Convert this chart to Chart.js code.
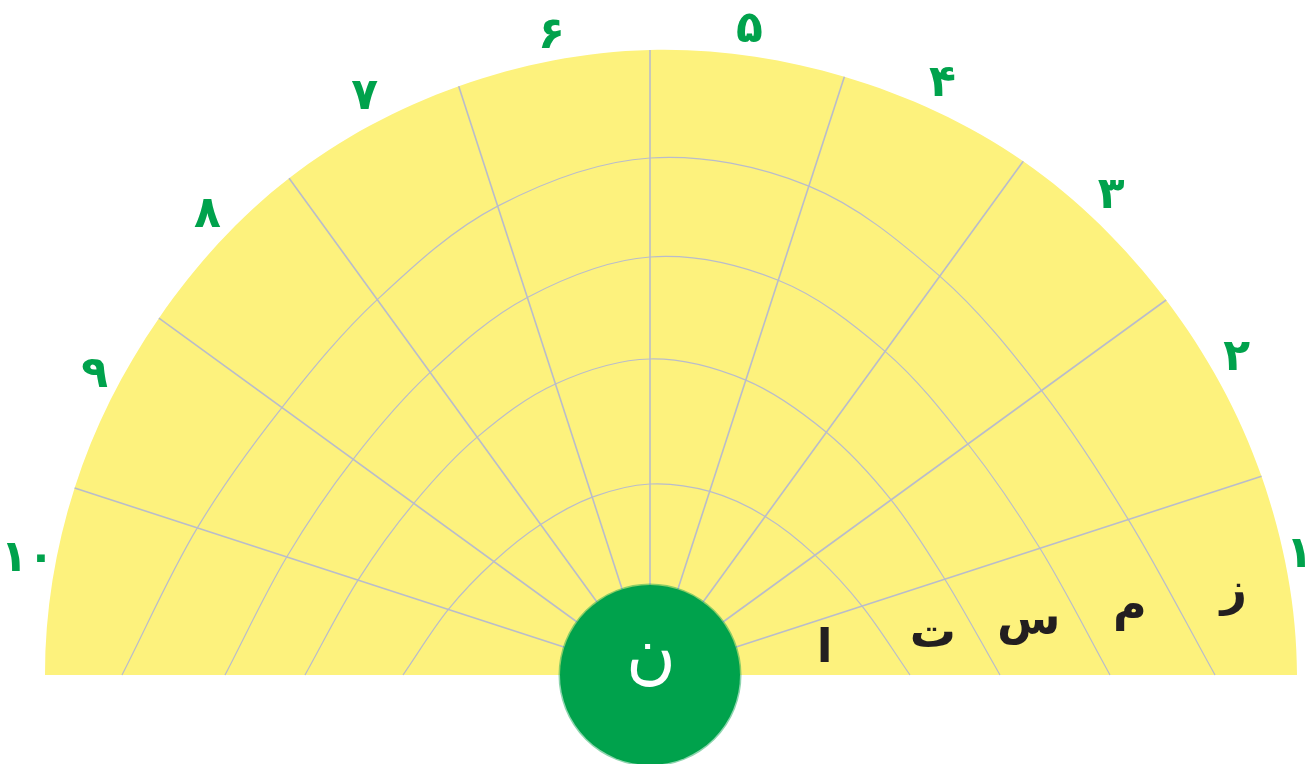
<!DOCTYPE html>
<html>
<head>
<meta charset="utf-8">
<script src="https://cdn.jsdelivr.net/npm/chart.js@4.4.1/dist/chart.umd.min.js"></script>
<style>
  html, body { margin: 0; padding: 0; background: #fff; }
  #wrap { position: relative; width: 1305px; height: 764px; overflow: hidden; }
  #chart { position: absolute; left: -50px; top: -25px; }
</style>
</head>
<body>
<div id="wrap"><canvas id="chart" width="1400" height="1400"></canvas></div>
<script>
// sector names, right (۱) to left (۱۰)
const sectorLabels = ['۱', '۲', '۳', '۴', '۵', '۶', '۷', '۸', '۹', '۱۰'];
// zone letters, inside to outside
const zoneLetters = ['ا', 'ت', 'س', 'م', 'ز'];
const centerLetter = 'ن';

// radius at each spoke, left baseline (180°) to right baseline (0°), every 18°
const rimRadius = [605, 605, 607, 614, 619, 625, 629, 635, 638, 643, 647];
const ring1 = [247, 212, 193, 186, 187, 191, 193, 196, 204, 223, 260];
const ring2 = [345, 307, 292, 294, 306, 316, 310, 300, 298, 310, 350];
const ring3 = [425, 382, 367, 374, 397, 418, 415, 400, 393, 410, 460];
const ring4 = [528, 476, 455, 464, 493, 517, 514, 493, 484, 503, 565];

const YELLOW = '#fdf27d';
const GRID = '#b9bccb';
const GREEN = '#00a24c';
const HUB = 91;
const RMAX = 700;
const N = 20; // full circle, only the upper half is shown

const labels = Array.from({ length: N }, (_, i) => i < 10 ? sectorLabels[9 - i] : '');
const pad = arr => arr.concat(Array(N - arr.length).fill(null));

// one dataset per spoke: center -> rim
const spokeSets = [];
for (let k = 1; k < 10; k++) {
    const d = Array(N).fill(null);
    d[k - 1] = 0;
    d[k] = rimRadius[k];
    spokeSets.push({ data: d, borderColor: GRID, borderWidth: 1.6, pointRadius: 0, fill: false, tension: 0 });
}

const ringSets = [ring1, ring2, ring3, ring4].map(r => ({
    data: pad(r), borderColor: GRID, borderWidth: 1.2, pointRadius: 0, fill: false, tension: 0.34
}));

// rim mirrored under the baseline so the curve stays round at both ends (clipped away)
const rimLoop = rimRadius.concat(rimRadius.slice(1, 10).reverse());

const datasets = [
    { data: pad([0]), pointRadius: HUB - 1, pointBackgroundColor: GREEN,
      pointBorderColor: 'rgba(0,162,76,0.45)', pointBorderWidth: 3, showLine: false, fill: false },
    ...ringSets,
    ...spokeSets,
    { data: rimLoop, backgroundColor: YELLOW, borderWidth: 0, pointRadius: 0, fill: 'origin', tension: 0.34 }
];
const rimIndex = datasets.length - 1;

// keep the yellow disc above the baseline
const baselineClip = {
    id: 'baselineClip',
    beforeDatasetsDraw(chart) {
        const ctx = chart.ctx;
        ctx.save();
        ctx.beginPath();
        ctx.rect(0, 0, chart.width, chart.scales.r.yCenter);
        ctx.clip();
    },
    afterDatasetDraw(chart, args) {
        if (args.index === rimIndex) chart.ctx.restore();
    }
};

const textPlugin = {
    id: 'texts',
    afterDatasetsDraw(chart) {
        const scale = chart.scales.r;
        const ctx = chart.ctx;
        ctx.save();
        ctx.textAlign = 'center';
        ctx.textBaseline = 'middle';

        // sector numbers just outside the rim
        ctx.fillStyle = GREEN;
        ctx.font = 'bold 44px "DejaVu Sans"';
        for (let i = 0; i < 10; i++) {
            const text = chart.data.labels[i];
            const rim = (rimRadius[i] + rimRadius[i + 1]) / 2;
            const ang = scale.getIndexAngle(i) + Math.PI / N - Math.PI / 2;
            const m = ctx.measureText(text);
            const ink = (m.actualBoundingBoxLeft + m.actualBoundingBoxRight) / 2;
            const p = scale.getPointPosition(i, scale.getDistanceFromCenterForValue(rim) + 6 + ink * Math.abs(Math.cos(ang)), Math.PI / N);
            ctx.fillText(text, p.x, p.y - 17);
        }

        // zone letters in the first sector, between rings
        const at = arr => (arr[9] + arr[10]) / 2;
        const bounds = [HUB + 20, at(ring1), at(ring2), at(ring3), at(ring4), at(rimRadius)];
        ctx.fillStyle = '#231f20';
        ctx.font = 'bold 46px "DejaVu Sans"';
        zoneLetters.forEach((ch, i) => {
            const v = (bounds[i] + bounds[i + 1]) / 2;
            const p = scale.getPointPosition(9, scale.getDistanceFromCenterForValue(v), Math.PI / 18);
            ctx.fillText(ch, p.x, p.y);
        });

        ctx.fillStyle = '#fff';
        ctx.font = '68px "DejaVu Sans"';
        ctx.fillText(centerLetter, scale.xCenter + 1, scale.yCenter - 17);
        ctx.restore();
    }
};

new Chart(document.getElementById('chart'), {
    type: 'radar',
    data: { labels: labels, datasets: datasets },
    options: {
        responsive: false,
        animation: false,
        events: [],
        layout: { padding: 0 },
        plugins: { legend: { display: false }, tooltip: { enabled: false } },
        scales: {
            r: {
                min: 0,
                max: RMAX,
                startAngle: -90,
                grid: { display: false, circular: true },
                angleLines: { display: false },
                ticks: { display: false },
                pointLabels: { display: false }
            }
        }
    },
    plugins: [baselineClip, textPlugin]
});
</script>
</body>
</html>
